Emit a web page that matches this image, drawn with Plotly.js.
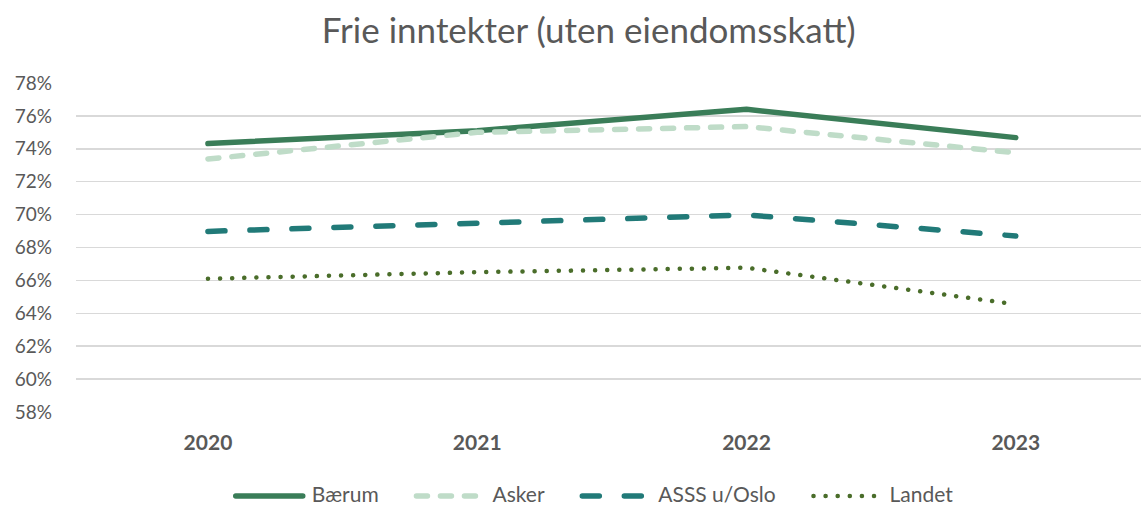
<!DOCTYPE html>
<html>
<head>
<meta charset="utf-8">
<script src="https://cdn.plot.ly/plotly-3.0.1.min.js"></script>
<style>
html,body{margin:0;padding:0;background:#fff;}
#chart{width:1141px;height:506px;}
.scatterlayer path.js-line, .legendlines path.js-line{stroke-linecap:round;stroke-linejoin:round;}
</style>
</head>
<body>
<div id="chart"></div>
<script>
const years = ["2020", "2021", "2022", "2023"];
const baerum = [0.7432, 0.7510, 0.7640, 0.7468];
const asker = [0.7338, 0.7500, 0.7535, 0.7376];
const asss = [0.6898, 0.6950, 0.6998, 0.6870];
const landet = [0.6610, 0.6650, 0.6677, 0.6455];
const seriesNames = ["Bærum", "Asker", "ASSS u/Oslo", "Landet"];
const yTicks = [0.58,0.60,0.62,0.64,0.66,0.68,0.70,0.72,0.74,0.76,0.78];

const font = "Lato, 'Open Sans', sans-serif";
const xIdx = years.map((_, i) => i);

const traces = [
  {x: xIdx, y: baerum, name: seriesNames[0], mode: "lines",
   line: {color: "#3a7d58", width: 5.5}},
  {x: xIdx, y: asker, name: seriesNames[1], mode: "lines",
   line: {color: "#bfdcc8", width: 5.5, dash: "11px,13px"}},
  {x: xIdx, y: asss, name: seriesNames[2], mode: "lines",
   line: {color: "#217a78", width: 5.5, dash: "17px,25px"}},
  {x: xIdx, y: landet, name: seriesNames[3], mode: "lines",
   line: {color: "#4a6d2a", width: 4.5, dash: "0.1px,12px"}}
];

const layout = {
  width: 1141, height: 506,
  margin: {l: 76, r: 0, t: 83, b: 94, autoexpand: false},
  paper_bgcolor: "#ffffff", plot_bgcolor: "#ffffff",
  title: {text: "Frie inntekter (uten eiendomsskatt)", x: 0.516, xanchor: "center", y: 0.94, yanchor: "middle",
          font: {family: font, size: 35, color: "#595959"}},
  xaxis: {
    range: [-0.49, 3.465], tickmode: "array", tickvals: xIdx, ticktext: years.map(y => "<b>" + y + "</b>"),
    showgrid: false, zeroline: false, showline: false, ticks: "",
    tickfont: {family: font, size: 21, color: "#595959"}, ticklabelstandoff: 16
  },
  yaxis: {
    range: [0.58, 0.78], tickmode: "array", tickvals: yTicks, tickformat: ".0%",
    showgrid: true, gridcolor: "#d9d9d9", gridwidth: 1.5, zeroline: false, showline: false, ticks: "",
    tickfont: {family: font, size: 19, color: "#595959"}, ticklabelstandoff: 23
  },
  showlegend: true,
  legend: {orientation: "h", x: 0.517, xanchor: "center", yref: "container", y: 0.02, yanchor: "middle",
           font: {family: font, size: 21, color: "#595959"}, tracegroupgap: 0,
           bgcolor: "rgba(0,0,0,0)"}
};

const gd = document.getElementById("chart");
Plotly.newPlot(gd, traces, layout, {displayModeBar: false, staticPlot: true}).then(() => {
  // Lengthen legend line samples and re-space the legend entries
  const leg = gd.querySelector(".legend");
  if (!leg) return;
  const sb = leg.querySelector(".scrollbox");
  if (sb) { sb.removeAttribute("clip-path"); sb.setAttribute("transform", "translate(0,0)"); }
  leg.setAttribute("transform", "translate(0,0)");
  const items = leg.querySelectorAll("g.traces");
  let X = 230.75;
  items.forEach(g => {
    g.querySelectorAll("path.js-line").forEach(p => p.setAttribute("d", "M5,2h67"));
    const t = g.querySelector("text.legendtext");
    let w = 0;
    if (t) { t.setAttribute("x", 81); w = t.getComputedTextLength(); }
    g.setAttribute("transform", "translate(" + X + ",494)");
    X = X + 81 + w + 35 - 2.25;
  });
});
</script>
</body>
</html>
